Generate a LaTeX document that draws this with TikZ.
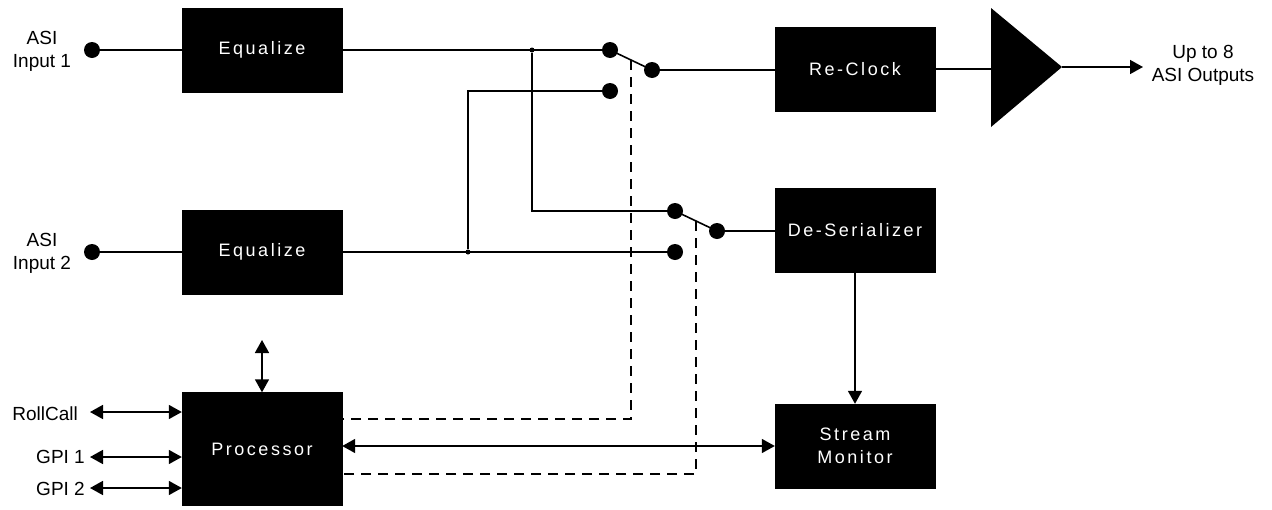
\documentclass[tikz,border=0pt]{standalone}
\usepackage{fontspec}
\setmainfont{Liberation Sans}
\newfontfamily\boxfont[LetterSpace=14]{Liberation Sans}
\usepackage{tikz}
\usetikzlibrary{
    arrows.meta,
    positioning
}
\tikzstyle{arrow} = [
    line width=1.6pt,
    -{Triangle[length=13pt,width=14pt]}
]
\tikzstyle{dblarrow} = [
    line width=1.6pt,
    {Triangle[length=13pt,width=14pt]}-{Triangle[length=13pt,width=14pt]}
]

\begin{document}
\begin{tikzpicture}[
  x=1pt, y=-1pt,
  block/.style={draw, fill=black, text=white, minimum width=160pt, minimum height=84pt,
    align=center, font=\boxfont\fontsize{18}{23}\selectfont},
  dot/.style={circle, fill=black, inner sep=0pt, minimum size=16pt},
  junction/.style={circle, fill=black, inner sep=0pt, minimum size=5pt},
  lbl/.style={inner sep=0pt, align=center, font=\fontsize{19}{23}\selectfont},
  wire/.style={line width=1.6pt},
  thinwire/.style={line width=1.1pt},
  ctrl/.style={line width=1.6pt, dash pattern=on 10pt off 7pt}
]
\useasboundingbox (0,0) rectangle (1272,509);

\node[block] (eqA)   at (262,50)  {Equalize};
\node[block] (eqB)   at (262,252) {Equalize};
\node[block] (reclock) at (855,69)  {Re-Clock};
\node[block] (deser) at (855,230) {De-Serializer};
\node[block] (monitor) at (855,446) {Stream\\Monitor};
\node[block, minimum height=113pt] (proc) at (262,449) {Processor};

\node[dot] (inA) at (92,50)  {};
\node[dot] (inB) at (92,252) {};
\node[lbl] (lblA) at (42,51)  {ASI\\Input 1};
\node[lbl] (lblB) at (42,253) {ASI\\Input 2};

\node[dot] (sAa) at (610,50) {};
\node[dot] (sAb) at (610,91) {};
\node[dot] (sAp) at (652,70) {};
\node[dot] (sBa) at (675,211) {};
\node[dot] (sBb) at (675,252) {};
\node[dot] (sBp) at (717,231) {};
\node[junction] (jA) at (532,50)  {};
\node[junction] (jB) at (468,252) {};

\coordinate (ampTop) at (991,8);
\coordinate (ampBot) at (991,127);
\coordinate (ampTip) at (1062,67);
\coordinate (ampIn)  at (991,69);
\coordinate (outEnd) at (1143,67);
\node[lbl] (outs) at (1203,65) {Up to 8\\ASI Outputs};

\fill (ampTop) -- (ampBot) -- (ampTip) -- cycle;

\draw[wire] (inA) -- (eqA);
\draw[wire] (eqA) -- (sAa);
\draw[wire] (sAa.center) -- (sAp.center);
\draw[wire] (sAp) -- (sAp -| reclock.west);
\draw[wire] (reclock.east |- ampIn) -- (ampIn);
\draw[arrow] (ampTip) -- (outEnd);

\draw[wire] (inB) -- (eqB);
\draw[wire] (eqB) -- (sBb);
\draw[wire] (sBa.center) -- (sBp.center);
\draw[wire] (sBp) -- (sBp -| deser.west);

\draw[thinwire] (jA) |- (sBa);
\draw[thinwire] (jB) |- (sAb);

\coordinate (sAm) at (631,60);
\coordinate (sBm) at (696,221);
\draw[ctrl] (sAm) |- ([yshift=30pt]proc.east);
\draw[ctrl] (sBm) |- ([yshift=-25pt]proc.east);

\draw[arrow] (deser.south) -- (monitor.north);
\draw[dblarrow] (proc.east |- monitor.west) -- (monitor.west);

\coordinate (procUp) at (262,340);
\draw[dblarrow] (procUp) -- (proc.north);

\node[lbl, anchor=east] (rollcall) at (78,414) {RollCall};
\node[lbl, anchor=east] (gpiA) at (85,457) {GPI 1};
\node[lbl, anchor=east] (gpiB) at (85,489) {GPI 2};
\coordinate (rcEnd)  at (90,412);
\coordinate (gpiAEnd) at (90,457);
\coordinate (gpiBEnd) at (90,488);
\draw[dblarrow] (rcEnd) -- (rcEnd -| proc.west);
\draw[dblarrow] (gpiAEnd) -- (gpiAEnd -| proc.west);
\draw[dblarrow] (gpiBEnd) -- (gpiBEnd -| proc.west);

\end{tikzpicture}
\end{document}
